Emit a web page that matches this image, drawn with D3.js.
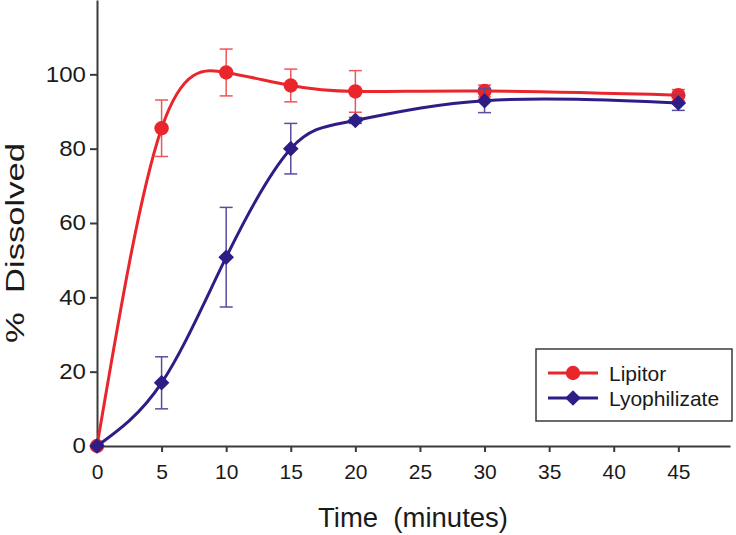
<!DOCTYPE html>
<html>
<head>
<meta charset="utf-8">
<script src="https://cdn.jsdelivr.net/npm/d3@7"></script>
<style>
  body { margin: 0; background: #fff; }
  svg text { font-family: Arial, "Liberation Sans", sans-serif; fill: #1a1a1a; }
</style>
</head>
<body>
<div id="root"></div>
<script>
// data
const times = [0, 5, 10, 15, 20, 30, 45];
const lipitor = [0, 85.5, 100.5, 97, 95.4, 95.5, 94.4];
const lipitorErr = [0, 7.6, 6.3, 4.4, 5.6, 1.6, 1.5];
const lyophilizate = [0, 17, 50.8, 80, 87.6, 92.9, 92.3];
const lyophilizateErr = [0, 7, 13.4, 6.8, 0.8, 3.2, 2];
const xTicks = [0, 5, 10, 15, 20, 25, 30, 35, 40, 45];
const yTicks = [0, 20, 40, 60, 80, 100];

const width = 736, height = 535;

const svg = d3.select('#root').append('svg')
  .attr('width', width)
  .attr('height', height);

const x = d3.scaleLinear().domain([0, 49]).range([97, 730]);
const y = d3.scaleLinear().domain([0, 120]).range([446, 0]);

// axes
const xAxis = svg.append('g')
  .attr('transform', `translate(0,${y(0)})`)
  .call(d3.axisBottom(x).tickValues(xTicks).tickSize(6).tickPadding(12).tickSizeOuter(0));
const yAxis = svg.append('g')
  .attr('transform', `translate(${x(0)},0)`)
  .call(d3.axisLeft(y).tickValues(yTicks).tickSize(7).tickPadding(4).tickSizeOuter(0));

[xAxis, yAxis].forEach(a => {
  a.select('.domain').attr('stroke', '#3a3a3a').attr('stroke-width', 2);
  a.selectAll('.tick line').attr('stroke', '#3a3a3a').attr('stroke-width', 2);
  a.selectAll('.tick text').style('font-size', '21px').attr('fill', '#1a1a1a');
});
// y labels in the reference are a little wider
yAxis.selectAll('.tick text')
  .style('font-size', '21.5px')
  .attr('x', 0)
  .attr('transform', 'translate(-11,0) scale(1.12,1)');

svg.append('text')
  .attr('x', 413)
  .attr('y', 527)
  .attr('text-anchor', 'middle')
  .style('font-size', '27.5px')
  .style('white-space', 'pre')
  .text('Time  (minutes)');

svg.append('text')
  .attr('transform', 'translate(24,243) rotate(-90)')
  .attr('text-anchor', 'middle')
  .style('font-size', '26px')
  .style('white-space', 'pre')
  .attr('textLength', 200)
  .attr('lengthAdjust', 'spacingAndGlyphs')
  .text('%  Dissolved');

const series = [
  { name: 'Lipitor', values: lipitor, err: lipitorErr, color: '#e8262b', errColor: '#ee5558', shape: 'circle' },
  { name: 'Lyophilizate', values: lyophilizate, err: lyophilizateErr, color: '#2e1d86', errColor: '#5a4c9f', shape: 'diamond' }
];

const line = d3.line()
  .x(d => x(d[0]))
  .y(d => y(d[1]))
  .curve(d3.curveNatural);

function marker(g, s, cx, cy) {
  if (s.shape === 'circle') {
    g.append('circle').attr('cx', cx).attr('cy', cy).attr('r', 7.2).attr('fill', s.color);
  } else {
    const r = 7.8;
    g.append('path')
      .attr('d', `M${cx},${cy - r}L${cx + r},${cy}L${cx},${cy + r}L${cx - r},${cy}Z`)
      .attr('fill', s.color);
  }
}

series.forEach(s => {
  const g = svg.append('g');
  const pts = times.map((t, i) => [t, s.values[i], s.err[i]]);

  // error bars
  pts.filter(d => d[2] > 0).forEach(d => {
    const cx = x(d[0]);
    const y1 = y(d[1] + d[2]), y2 = y(d[1] - d[2]);
    g.append('line').attr('x1', cx).attr('x2', cx).attr('y1', y1).attr('y2', y2)
      .attr('stroke', s.errColor).attr('stroke-width', 1.5);
    [y1, y2].forEach(yy => {
      g.append('line').attr('x1', cx - 6.5).attr('x2', cx + 6.5).attr('y1', yy).attr('y2', yy)
        .attr('stroke', s.errColor).attr('stroke-width', 1.5);
    });
  });

  g.append('path')
    .datum(pts)
    .attr('d', line)
    .attr('fill', 'none')
    .attr('stroke', s.color)
    .attr('stroke-width', 3);

  pts.forEach(d => marker(g, s, x(d[0]), y(d[1])));
});

// legend
const lg = svg.append('g');
lg.append('rect')
  .attr('x', 536).attr('y', 349)
  .attr('width', 196).attr('height', 72)
  .attr('fill', '#fff')
  .attr('stroke', '#3a3a3a')
  .attr('stroke-width', 1.5);

series.forEach((s, i) => {
  const ly = 373 + i * 25;
  lg.append('line').attr('x1', 548).attr('x2', 598).attr('y1', ly).attr('y2', ly)
    .attr('stroke', s.color).attr('stroke-width', 3);
  marker(lg, s, 573, ly);
  lg.append('text')
    .attr('x', 609).attr('y', ly + 7.5)
    .style('font-size', '21px')
    .text(s.name);
});
</script>
</body>
</html>
